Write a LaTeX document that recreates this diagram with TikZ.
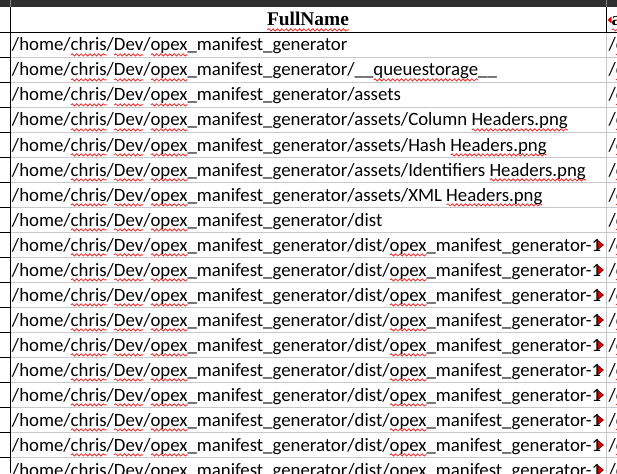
\documentclass[tikz,border=0pt]{standalone}
\usepackage{fontspec}
\setmainfont{Carlito}
\newfontfamily\hdrfont{Liberation Serif}
\usetikzlibrary{decorations.pathmorphing}
\definecolor{barcol}{HTML}{2F2F2F}
\definecolor{gridcol}{HTML}{C8C8C8}
\definecolor{spellred}{HTML}{F03030}
\newlength\wvlen
\newcommand\wv[1]{\settowidth\wvlen{#1}\rlap{\smash{\tikz[baseline=0pt]{\useasboundingbox (0pt,0pt);\draw[spellred,line width=0.85pt,decorate,decoration={snake,amplitude=1.1pt,segment length=4.4pt}] (0.3pt,-3.9pt) -- (\wvlen,-3.9pt);}}}#1}
\newcommand\pre{/home/\wv{chris}/\wv{Dev}/\wv{opex}\_manifest\_generator}
\tikzset{
  cell/.style={inner sep=0pt,outer sep=0pt,anchor=base west,font=\fontsize{18.8}{20}\selectfont},
  hdr/.style={inner sep=0pt,outer sep=0pt,anchor=base,font=\hdrfont\bfseries\fontsize{19.4}{21}\selectfont},
  grid/.style={gridcol,line width=1pt},
  dark/.style={black,line width=1pt},
  ovf/.style={fill=red!90!black,draw=black,line width=0.4pt}
}
\begin{document}
\begin{tikzpicture}[x=1pt,y=-1pt]
\useasboundingbox (0,0) rectangle (617,473);
\clip (0,0) rectangle (617,473);
\fill[white] (0,0) rectangle (617,473);
% top bar
\fill[barcol] (0,0) rectangle (617,7);
\draw[gray,line width=1pt] (10.5,0) -- (10.5,7);
\draw[gray,line width=1pt] (606.5,0) -- (606.5,7);
% grid lines in data area
\foreach \k in {0,...,16} {
  \draw[grid] (11,57.5+25*\k) -- (617,57.5+25*\k);
  \draw[dark] (0,57.5+25*\k) -- (10,57.5+25*\k);
}
\draw[dark] (0,32.5) -- (617,32.5);
\draw[dark] (10.5,7) -- (10.5,473);
\draw[dark] (606.5,7) -- (606.5,32.5);
\draw[grid] (606.5,33) -- (606.5,473);
% header
\node[hdr] (hdr) at (308,26) {\wv{FullName}};
\begin{scope}
\clip (607,7) rectangle (617,32);
\node[hdr,anchor=base west] (hdr2) at (611.5,26) {\wv{a}};
\end{scope}
\fill[red!90!black] (607.5,20) -- (611.5,16.5) -- (611.5,23.5) -- cycle;
% main column
\begin{scope}
\clip (11,33) rectangle (600,473);
\node[cell] (r1) at (12,51) {\pre};
\node[cell] (r2) at (12,76) {\pre/\_\_\wv{queuestorage}\_\_};
\node[cell] (r3) at (12,101) {\pre/assets};
\node[cell] (r4) at (12,126) {\pre/assets/Column \wv{Headers.png}};
\node[cell] (r5) at (12,151) {\pre/assets/Hash \wv{Headers.png}};
\node[cell] (r6) at (12,176) {\pre/assets/Identifiers \wv{Headers.png}};
\node[cell] (r7) at (12,201) {\pre/assets/XML \wv{Headers.png}};
\node[cell] (r8) at (12,226) {\pre/dist};
\foreach \k in {0,...,9} {
  \node[cell] (d\k) at (12,251+25*\k) {\pre/dist/\wv{opex}\_manifest\_generator-1.0};
}
\end{scope}
\foreach \k in {0,...,9} {
  \filldraw[ovf] (603.5,245+25*\k) -- (598,240.5+25*\k) -- (598,249.5+25*\k) -- cycle;
}
% next column
\foreach \k in {0,...,17} {
  \node[cell] (c\k) at (608.5,51+25*\k) {/\wv{c}};
}
\end{tikzpicture}
\end{document}
